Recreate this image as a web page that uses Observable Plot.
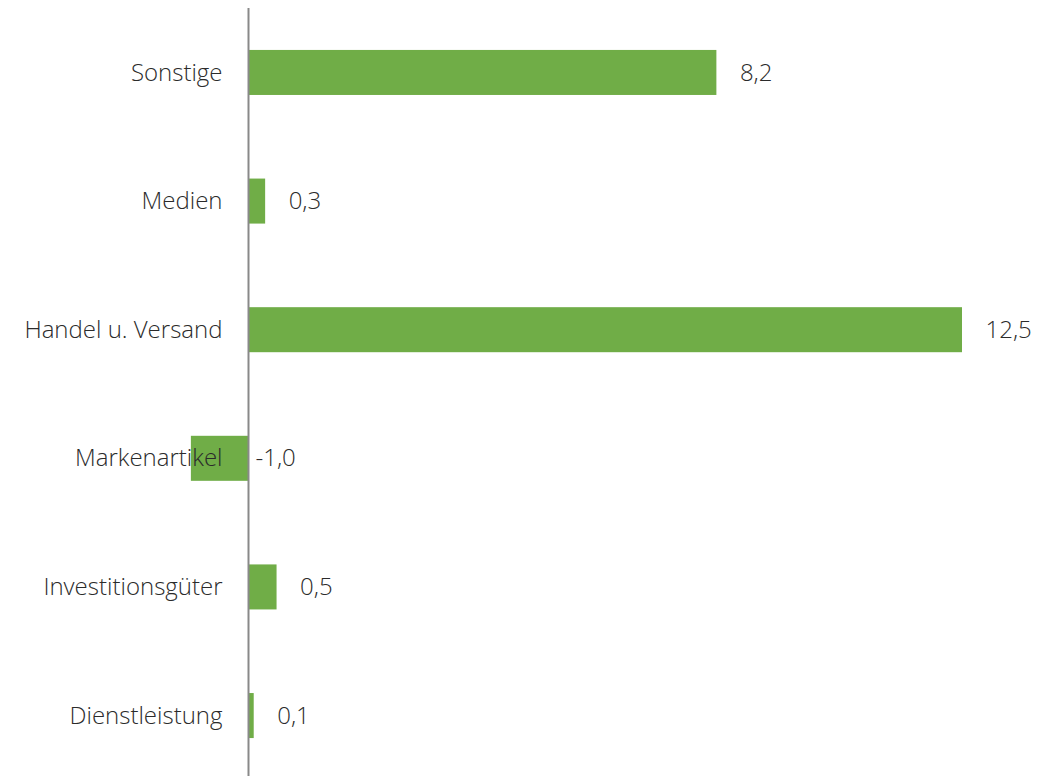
<!DOCTYPE html>
<html>
<head>
<meta charset="utf-8">
<script src="https://cdn.jsdelivr.net/npm/d3@7"></script>
<script src="https://cdn.jsdelivr.net/npm/@observablehq/plot@0.6"></script>
<style>
  html, body { margin: 0; padding: 0; background: #fff; }
  #chart { width: 1059px; height: 776px; }
</style>
</head>
<body>
<div id="chart"></div>
<script>
const categories = ["Sonstige", "Medien", "Handel u. Versand", "Markenartikel", "Investitionsgüter", "Dienstleistung"];
const values = [8.2, 0.3, 12.5, -1.0, 0.5, 0.1];

const data = categories.map((c, i) => ({category: c, value: values[i]}));
const fmt = v => v.toFixed(1).replace(".", ",");
const font = "'Open Sans', sans-serif";

const chart = Plot.plot({
  width: 1059,
  height: 776,
  marginLeft: 248,
  marginRight: 97,
  marginTop: 12,
  marginBottom: 0,
  style: {fontFamily: font, fontSize: "24px", fontWeight: 300, color: "#333", background: "#fff"},
  x: {domain: [0, 12.5], axis: null},
  y: {domain: categories, paddingInner: 0.65, paddingOuter: 0.295, round: false, axis: null},
  marks: [
    Plot.barX(data, {x: "value", y: "category", fill: "#70AD47"}),
    Plot.ruleX([0], {stroke: "#898989", strokeWidth: 2, insetTop: -4}),
    Plot.axisY({tickSize: 0, tickPadding: 26, fontSize: 24, fontWeight: 300, fill: "#2b2b2b", label: null}),
    Plot.text(data.filter(d => d.value >= 0), {
      x: "value", y: "category", text: d => fmt(d.value),
      textAnchor: "start", dx: 23, fontSize: 24, fontWeight: 300, fill: "#2b2b2b"
    }),
    Plot.text(data.filter(d => d.value < 0), {
      x: () => 0, y: "category", text: d => fmt(d.value),
      textAnchor: "start", dx: 7, fontSize: 24, fontWeight: 300, fill: "#2b2b2b"
    })
  ]
});
document.getElementById("chart").appendChild(chart);
</script>
</body>
</html>
